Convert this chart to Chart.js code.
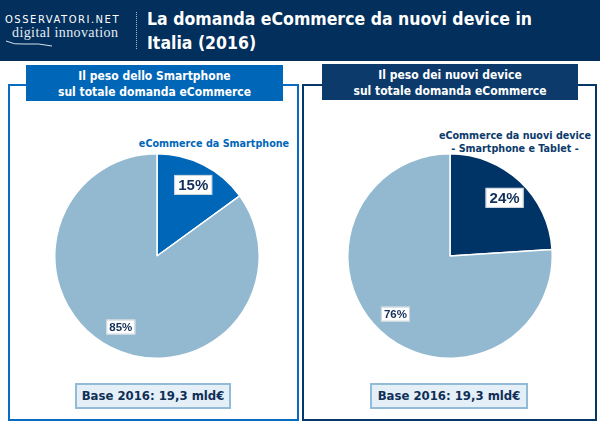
<!DOCTYPE html>
<html>
<head>
<meta charset="utf-8">
<script src="https://cdn.jsdelivr.net/npm/chart.js@4"></script>
<style>
  body { margin: 0; width: 600px; height: 431px; background: #fff; position: relative; overflow: hidden; font-family: "DejaVu Sans Condensed", sans-serif; }
  .abs { position: absolute; white-space: nowrap; }
  #header { left: 0; top: 0; width: 600px; height: 61px; background: #022f5c; }
  #logo1 { left: 5px; top: 14px; color: #fff; font: 10px "DejaVu Sans"; letter-spacing: 1.5px; }
  #logo2 { left: 12px; top: 25px; color: #e6edf4; font: 14px "Liberation Serif"; letter-spacing: 0.4px; }
  #swoosh { left: 4px; top: 38px; }
  #sep { left: 136px; top: 12px; height: 37px; border-left: 1px dotted #a9bdd2; }
  #title { left: 147px; top: 7px; color: #fff; font: bold 17.5px "DejaVu Sans Condensed"; line-height: 24px; }
  .panel { top: 84px; height: 337px; box-sizing: border-box; border: 2px solid; }
  #p1 { left: 8px; width: 291px; border-color: #0a6cc0; }
  #p2 { left: 302px; width: 295px; border-color: #053768; }
  .ptitle { height: 36px; color: #fff; font: bold 12px "DejaVu Sans Condensed"; text-align: center; line-height: 16px; box-sizing: border-box; padding-top: 3px; }
  #t1 { left: 26px; top: 65px; width: 257px; background: #0066b8; }
  #t2 { left: 322px; top: 64px; width: 256px; background: #0b3a6b; }
  .base { top: 383px; height: 26px; box-sizing: border-box; border: 2px solid #92bbd8; background: #e5eff8; color: #0f2f57; font: bold 13px "DejaVu Sans Condensed"; text-align: center; line-height: 22px; }
  #b1 { left: 75px; width: 156px; }
  #b2 { left: 370px; width: 158px; }
  .lbl { font: bold 10.7px "DejaVu Sans Condensed"; text-align: center; line-height: 13px; }
  #l1 { left: 136px; top: 137px; width: 156px; color: #0066b8; }
  #l2 { left: 435px; top: 129px; width: 160px; color: #0b3a6b; }
  canvas { position: absolute; }
</style>
</head>
<body>
<div id="header" class="abs"></div>
<div id="logo1" class="abs">OSSERVATORI.NET</div>
<div id="logo2" class="abs">digital innovation</div>
<svg id="swoosh" class="abs" width="60" height="10"><path d="M2 3 Q 10 7 20 6 Q 35 5 48 8" stroke="#d6e1ec" stroke-width="1" fill="none"/></svg>
<div id="sep" class="abs"></div>
<div id="title" class="abs">La domanda eCommerce da nuovi device in<br>Italia (2016)</div>

<div id="p1" class="abs panel"></div>
<div id="p2" class="abs panel"></div>
<div id="t1" class="abs ptitle">Il peso dello Smartphone<br>sul totale domanda eCommerce</div>
<div id="t2" class="abs ptitle">Il peso dei nuovi device<br>sul totale domanda eCommerce</div>
<div id="l1" class="abs lbl">eCommerce da Smartphone</div>
<div id="l2" class="abs lbl">eCommerce da nuovi device<br>- Smartphone e Tablet -</div>
<div id="b1" class="abs base">Base 2016: 19,3 mld€</div>
<div id="b2" class="abs base">Base 2016: 19,3 mld€</div>

<canvas id="pie1" width="206" height="206" style="left:54px;top:153px"></canvas>
<canvas id="pie2" width="206" height="206" style="left:347px;top:153px"></canvas>

<script>
// pie 1: smartphone share
const smartLabels = ['eCommerce da Smartphone', 'Altro'];
const smartValues = [15, 85];
// pie 2: new devices share
const deviceLabels = ['eCommerce da nuovi device', 'Altro'];
const deviceValues = [24, 76];

const lightBlue = '#93b9d1';

// draws the % labels in little white boxes
const pctLabels = {
  id: 'pctLabels',
  afterDatasetsDraw(chart) {
    const ctx = chart.ctx;
    const meta = chart.getDatasetMeta(0);
    const data = chart.data.datasets[0].data;
    meta.data.forEach((arc, i) => {
      const mid = (arc.startAngle + arc.endAngle) / 2;
      const r = arc.outerRadius * 0.78;
      const x = arc.x + Math.cos(mid) * r;
      const y = arc.y + Math.sin(mid) * r;
      const big = i === 0;
      const txt = data[i] + '%';
      ctx.save();
      ctx.font = 'bold ' + (big ? 15 : 11.5) + 'px "Liberation Sans"';
      const w = ctx.measureText(txt).width + (big ? 8 : 6);
      const h = big ? 20 : 15;
      ctx.fillStyle = '#fff';
      ctx.strokeStyle = '#c9d3dc';
      ctx.lineWidth = 1;
      ctx.fillRect(x - w / 2, y - h / 2, w, h);
      ctx.strokeRect(x - w / 2 + 0.5, y - h / 2 + 0.5, w - 1, h - 1);
      ctx.fillStyle = '#14305a';
      ctx.textAlign = 'center';
      ctx.textBaseline = 'middle';
      ctx.fillText(txt, x, y + 1);
      ctx.restore();
    });
  }
};

function makePie(id, labels, values, color) {
  return new Chart(document.getElementById(id), {
    type: 'pie',
    data: {
      labels: labels,
      datasets: [{
        data: values,
        backgroundColor: [color, lightBlue],
        borderColor: '#ffffff',
        borderWidth: 1.5,
        hoverOffset: 0
      }]
    },
    options: {
      responsive: false,
      animation: false,
      events: [],
      layout: { padding: 0 },
      plugins: { legend: { display: false }, tooltip: { enabled: false } }
    },
    plugins: [pctLabels]
  });
}

makePie('pie1', smartLabels, smartValues, '#0066b8');
makePie('pie2', deviceLabels, deviceValues, '#003366');
</script>
</body>
</html>
